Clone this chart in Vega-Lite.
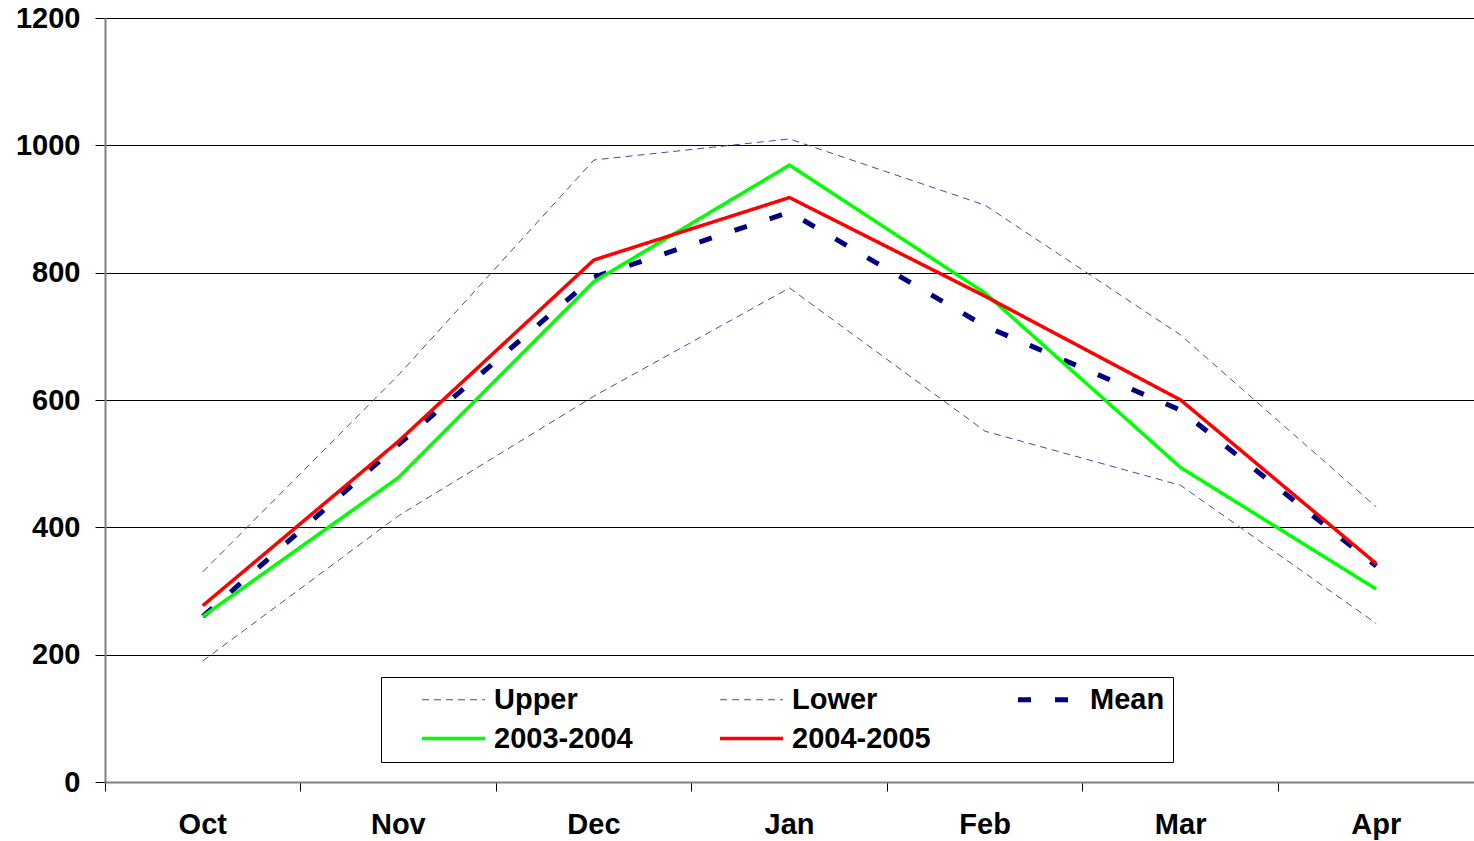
{
  "$schema": "https://vega.github.io/schema/vega-lite/v6.json",
  "width": 1369,
  "height": 764,
  "autosize": {"type": "none"},
  "padding": {"left": 105, "top": 18, "right": 0, "bottom": 59},
  "background": "white",
  "config": {
    "view": {"stroke": null},
    "font": "Liberation Sans"
  },
  "data": {
    "values": [
      {"month": "Oct", "series": "Upper", "value": 330},
      {"month": "Nov", "series": "Upper", "value": 639},
      {"month": "Dec", "series": "Upper", "value": 977},
      {"month": "Jan", "series": "Upper", "value": 1010},
      {"month": "Feb", "series": "Upper", "value": 906},
      {"month": "Mar", "series": "Upper", "value": 702},
      {"month": "Apr", "series": "Upper", "value": 432},
      {"month": "Oct", "series": "Lower", "value": 190},
      {"month": "Nov", "series": "Lower", "value": 418},
      {"month": "Dec", "series": "Lower", "value": 606},
      {"month": "Jan", "series": "Lower", "value": 776},
      {"month": "Feb", "series": "Lower", "value": 551},
      {"month": "Mar", "series": "Lower", "value": 466},
      {"month": "Apr", "series": "Lower", "value": 249},
      {"month": "Oct", "series": "Mean", "value": 260},
      {"month": "Nov", "series": "Mean", "value": 530},
      {"month": "Dec", "series": "Mean", "value": 793},
      {"month": "Jan", "series": "Mean", "value": 895},
      {"month": "Feb", "series": "Mean", "value": 716},
      {"month": "Mar", "series": "Mean", "value": 584},
      {"month": "Apr", "series": "Mean", "value": 339},
      {"month": "Oct", "series": "2003-2004", "value": 260},
      {"month": "Nov", "series": "2003-2004", "value": 478},
      {"month": "Dec", "series": "2003-2004", "value": 786},
      {"month": "Jan", "series": "2003-2004", "value": 969},
      {"month": "Feb", "series": "2003-2004", "value": 768},
      {"month": "Mar", "series": "2003-2004", "value": 494},
      {"month": "Apr", "series": "2003-2004", "value": 303},
      {"month": "Oct", "series": "2004-2005", "value": 277},
      {"month": "Nov", "series": "2004-2005", "value": 535},
      {"month": "Dec", "series": "2004-2005", "value": 820},
      {"month": "Jan", "series": "2004-2005", "value": 918},
      {"month": "Feb", "series": "2004-2005", "value": 763},
      {"month": "Mar", "series": "2004-2005", "value": 600},
      {"month": "Apr", "series": "2004-2005", "value": 343}
    ]
  },
  "mark": {"type": "line", "strokeCap": "butt", "strokeJoin": "miter"},
  "encoding": {
    "x": {
      "field": "month",
      "type": "ordinal",
      "sort": ["Oct", "Nov", "Dec", "Jan", "Feb", "Mar", "Apr"],
      "bandPosition": 0.5,
      "scale": {"type": "band", "paddingInner": 0, "paddingOuter": 0},
      "axis": {
        "title": null,
        "bandPosition": 0,
        "labelAngle": 0,
        "labelFont": "Liberation Sans",
        "labelFontWeight": "bold",
        "labelFontSize": 29,
        "labelColor": "black",
        "labelPadding": 19,
        "tickSize": 9,
        "tickColor": "black",
        "tickWidth": 1,
        "domainColor": "#808080",
        "domainWidth": 2,
        "grid": false
      }
    },
    "y": {
      "field": "value",
      "type": "quantitative",
      "scale": {"domain": [0, 1200], "nice": false},
      "axis": {
        "title": null,
        "values": [0, 200, 400, 600, 800, 1000, 1200],
        "format": "d",
        "labelFont": "Liberation Sans",
        "labelFontWeight": "bold",
        "labelFontSize": 29,
        "labelColor": "black",
        "labelPadding": 15,
        "tickSize": 10,
        "tickColor": "black",
        "tickWidth": 1,
        "domainColor": "#808080",
        "domainWidth": 2,
        "grid": true,
        "gridColor": "black",
        "gridWidth": 1
      }
    },
    "color": {
      "field": "series",
      "type": "nominal",
      "sort": ["Upper", "Lower", "Mean", "2003-2004", "2004-2005"],
      "scale": {
        "domain": ["Upper", "Lower", "Mean", "2003-2004", "2004-2005"],
        "range": ["#4848aa", "#4848aa", "#000080", "#00ff00", "#ff0000"]
      },
      "legend": {
        "title": null,
        "orient": "none",
        "legendX": 276,
        "legendY": 659,
        "direction": "horizontal",
        "columns": 3,
        "gridAlign": "all",
        "columnPadding": 54,
        "rowPadding": 9,
        "padding": 8,
        "symbolOffset": 50,
        "fillColor": "white",
        "strokeColor": "black",
        "symbolType": "M-3,0H3",
        "symbolSize": 441,
        "labelFont": "Liberation Sans",
        "labelFontWeight": "bold",
        "labelFontSize": 29,
        "labelColor": "black",
        "labelOffset": 26,
        "labelLimit": 400
      }
    },
    "strokeDash": {
      "field": "series",
      "type": "nominal",
      "sort": ["Upper", "Lower", "Mean", "2003-2004", "2004-2005"],
      "scale": {
        "domain": ["Upper", "Lower", "Mean", "2003-2004", "2004-2005"],
        "range": [[7, 5], [7, 5], [13, 24], [1, 0], [1, 0]]
      },
      "legend": {"title": null}
    },
    "strokeWidth": {
      "field": "series",
      "type": "nominal",
      "sort": ["Upper", "Lower", "Mean", "2003-2004", "2004-2005"],
      "scale": {
        "type": "ordinal",
        "domain": ["Upper", "Lower", "Mean", "2003-2004", "2004-2005"],
        "range": [1, 1, 5, 3.5, 3.5]
      },
      "legend": {"title": null}
    }
  }
}
